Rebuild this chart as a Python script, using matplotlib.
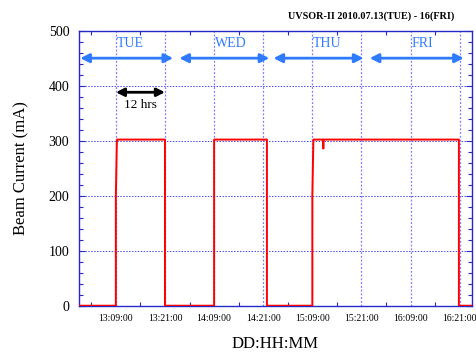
import matplotlib
matplotlib.use("Agg")
import matplotlib.pyplot as plt
from matplotlib.ticker import MultipleLocator, FixedLocator

# hours counted from day 13, 00:00
times = [0, 9, 9, 9.25, 21, 21, 33, 33, 45.9, 45.9, 57, 57, 57.25, 59.6, 59.6, 59.75, 59.75, 92.8, 92.8, 96]
current = [0, 0, 200, 302, 302, 0, 0, 302, 302, 0, 0, 200, 302, 302, 286, 286, 302, 302, 0, 0]

tick_hours = [9, 21, 33, 45, 57, 69, 81, 93]
tick_labels = ["13:09:00", "13:21:00", "14:09:00", "14:21:00",
               "15:09:00", "15:21:00", "16:09:00", "16:21:00"]

days = ["TUE", "WED", "THU", "FRI"]
day_arrows = [(0.3, 23.0), (24.5, 46.5), (47.5, 69.5), (71.0, 94.0)]
day_label_x = [9.2, 33.2, 57.2, 81.2]

blue = "#2828c8"
day_blue = "#2f7bff"

plt.rcParams['font.family'] = ['Liberation Serif', 'DejaVu Serif']

fig = plt.figure(figsize=(4.76, 3.54), dpi=100)
ax = fig.add_axes([0.166, 0.1364, 0.8256, 0.777])

ax.plot(times, current, color="#ff0000", lw=1.4, zorder=3)

ax.set_xlim(0, 96)
ax.set_ylim(0, 500)
ax.xaxis.set_major_locator(FixedLocator(tick_hours))
ax.xaxis.set_minor_locator(FixedLocator([h - 6 for h in tick_hours] + [99]))
ax.set_xticklabels(tick_labels, fontsize=7)
ax.yaxis.set_major_locator(MultipleLocator(100))
ax.yaxis.set_minor_locator(MultipleLocator(20))
ax.tick_params(axis='y', labelsize=10, pad=7)
ax.tick_params(which='both', direction='in', top=True, right=True, color=blue, width=0.8)
ax.tick_params(which='major', length=4)
ax.tick_params(which='minor', length=3)
ax.tick_params(axis='x', which='major', length=0, pad=6)

for s in ax.spines.values():
    s.set_color(blue)
    s.set_linewidth(1.0)

ax.grid(axis='y', which='major', color="#4a4ae0", linestyle=(0, (1.5, 1.5)), lw=0.7)
ax.grid(axis='x', which='major', color="#7a7aff", linestyle=(0, (1.5, 1.5)), lw=0.9)

# day arrows
for name, (x0, x1), lx in zip(days, day_arrows, day_label_x):
    ax.annotate("", xy=(x1, 450), xytext=(x0, 450),
                arrowprops=dict(arrowstyle="<|-|>", color=day_blue, lw=2,
                                mutation_scale=13, shrinkA=0, shrinkB=0))
    ax.text(lx, 465, name, color=day_blue, fontsize=10, ha='left', va='bottom')

# 12 hrs marker
ax.annotate("", xy=(21, 388), xytext=(9, 388),
            arrowprops=dict(arrowstyle="<|-|>", color="black", lw=2,
                            mutation_scale=12, shrinkA=0, shrinkB=0))
ax.text(15, 376, "12 hrs", fontsize=9.5, ha='center', va='top')

ax.set_ylabel("Beam Current (mA)", fontsize=12, labelpad=14)
ax.set_xlabel("DD:HH:MM", fontsize=12, labelpad=9)

fig.text(0.954, 0.955, "UVSOR-II 2010.07.13(TUE) - 16(FRI)", fontsize=7.3,
         fontweight='bold', ha='right', va='center')

fig.savefig("out.png", dpi=100)
